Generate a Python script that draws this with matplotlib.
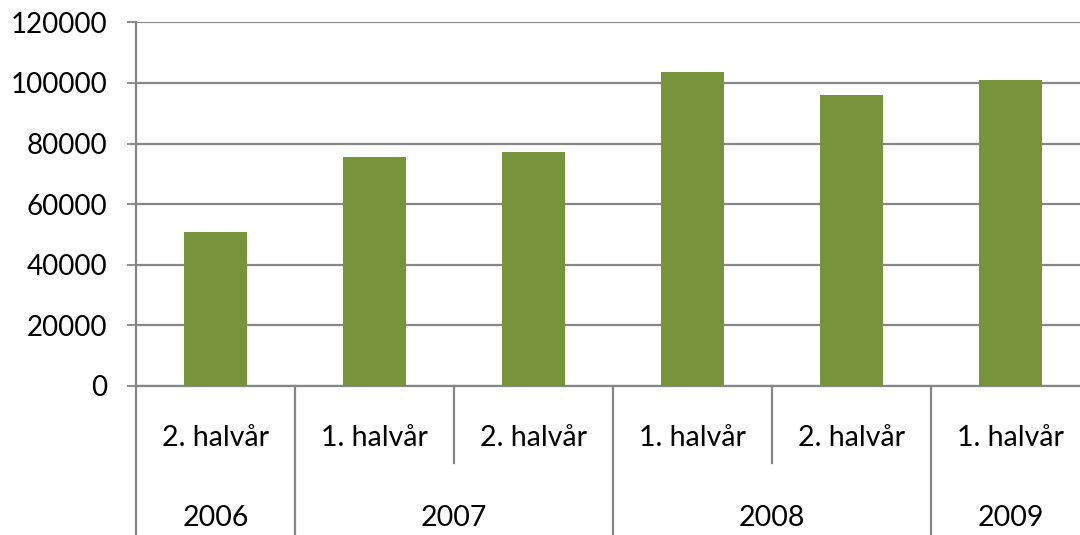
import matplotlib
matplotlib.use("Agg")
import matplotlib.pyplot as plt
import numpy as np

# data
halves = ["2. halvår", "1. halvår", "2. halvår", "1. halvår", "2. halvår", "1. halvår"]
years = ["2006", "2007", "2007", "2008", "2008", "2009"]
values = [50700, 75700, 77200, 103500, 96000, 100900]
yticks = [0, 20000, 40000, 60000, 80000, 100000, 120000]

plt.rcParams['font.family'] = ['Lato', 'DejaVu Sans']

grey = '#868686'
green = '#77933C'

fig = plt.figure(figsize=(10.8, 5.35), dpi=100)
# plot area runs a little past the right edge of the picture
ax = fig.add_axes([136 / 1080, 1 - 386 / 535, 954 / 1080, (386 - 22.3) / 535])

x = np.arange(len(values))
ax.bar(x, values, width=0.4, color=green, zorder=3)

ax.set_xlim(-0.5, len(values) - 0.5)
ax.set_ylim(0, 120000)
ax.set_yticks(yticks)
ax.set_yticklabels([str(v) for v in yticks], fontsize=20)
ax.yaxis.grid(True, color=grey, linewidth=1.6, zorder=0)
ax.tick_params(axis='y', direction='out', length=6.5, width=1.3, color=grey, pad=14)
ax.tick_params(axis='x', length=0, labelbottom=False)

for s in ['top', 'right']:
    ax.spines[s].set_visible(False)
for s in ['left', 'bottom']:
    ax.spines[s].set_color(grey)
    ax.spines[s].set_linewidth(1.6)

# multi-level category axis
tr = ax.get_xaxis_transform()
row1_y = -(438 - 386) / 363.7
row2_y = -(518 - 386) / 363.7
row1_bot = -(463 - 386) / 363.7
full_bot = -(540 - 386) / 363.7

for i, h in enumerate(halves):
    ax.text(x[i], row1_y, h, transform=tr, ha='center', va='center', fontsize=20.5)

# year groups
groups = []
for i, yr in enumerate(years):
    if groups and groups[-1][0] == yr:
        groups[-1][2] = i
    else:
        groups.append([yr, i, i])
for yr, a, b in groups:
    ax.text((a + b) / 2, row2_y, yr, transform=tr, ha='center', va='center', fontsize=20.5)

# separators
bounds = np.arange(len(values) + 1) - 0.5
year_bounds = [a - 0.5 for _, a, _ in groups] + [len(values) - 0.5]
for b in bounds:
    bottom = full_bot if b in year_bounds else row1_bot
    ax.plot([b, b], [0, bottom], transform=tr, color=grey, linewidth=1.6, clip_on=False)

fig.savefig('out.png', dpi=100)
